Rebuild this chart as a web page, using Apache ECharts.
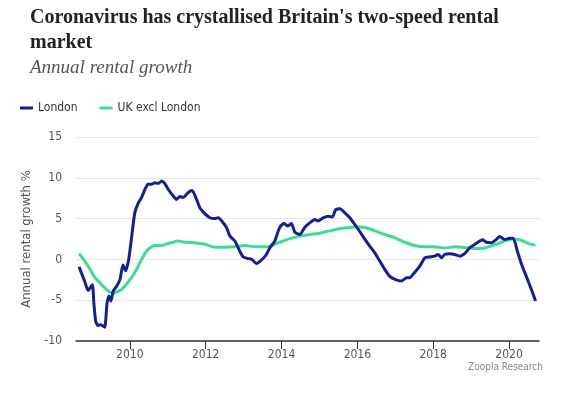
<!DOCTYPE html>
<html>
<head>
<meta charset="utf-8">
<script src="https://cdn.jsdelivr.net/npm/echarts@6/dist/echarts.min.js"></script>
<style>html,body{margin:0;padding:0;background:#fff}#c{width:567px;height:394px}</style>
</head>
<body>
<div id="c"></div>
<script>
const yearTicks = [2010, 2012, 2014, 2016, 2018, 2020];
const londonDates = [2008.66,2008.81,2008.90,2009.01,2009.05,2009.10,2009.16,2009.23,2009.30,2009.34,2009.40,2009.45,2009.50,2009.56,2009.65,2009.74,2009.82,2009.89,2009.97,2010.04,2010.13,2010.22,2010.31,2010.40,2010.48,2010.57,2010.66,2010.75,2010.84,2010.92,2011.01,2011.14,2011.23,2011.32,2011.41,2011.54,2011.64,2011.76,2011.85,2011.96,2012.11,2012.24,2012.33,2012.46,2012.55,2012.64,2012.77,2012.90,2012.99,2013.12,2013.22,2013.34,2013.47,2013.60,2013.69,2013.82,2013.95,2014.06,2014.17,2014.26,2014.35,2014.48,2014.61,2014.75,2014.88,2014.96,2015.10,2015.23,2015.34,2015.43,2015.54,2015.67,2015.80,2015.93,2016.06,2016.20,2016.33,2016.46,2016.59,2016.72,2016.85,2016.99,2017.16,2017.30,2017.38,2017.51,2017.65,2017.78,2017.91,2018.04,2018.13,2018.22,2018.30,2018.44,2018.57,2018.70,2018.83,2018.96,2019.10,2019.23,2019.31,2019.40,2019.54,2019.67,2019.75,2019.89,2020.02,2020.11,2020.22,2020.33,2020.44,2020.59,2020.70];
const londonValues = [-0.9,-2.7,-3.8,-3.1,-5.3,-7.6,-8.1,-8.0,-8.2,-8.3,-5.3,-4.5,-5.1,-3.9,-3.3,-2.45,-0.7,-1.4,0,2.45,5.7,6.9,7.6,8.6,9.2,9.2,9.4,9.3,9.6,9.3,8.6,7.8,7.35,7.7,7.6,8.2,8.45,7.35,6.3,5.7,5.1,5.0,5.1,4.5,3.9,2.85,2.25,1.0,0.3,0.1,0,-0.5,-0.1,0.6,1.4,2.25,3.9,4.4,4.1,4.4,3.35,3.05,3.9,4.5,4.9,4.7,5.1,5.3,5.2,6.1,6.2,5.7,5.1,4.3,3.45,2.45,1.6,0.8,-0.2,-1.2,-2.05,-2.45,-2.65,-2.25,-2.25,-1.6,-0.8,0.2,0.3,0.4,0.6,0.2,0.6,0.7,0.6,0.4,0.7,1.4,1.85,2.25,2.4,2.1,2.05,2.45,2.8,2.45,2.6,2.6,1.0,-0.6,-1.9,-3.7,-5.1];
const ukDates = [2008.66,2008.81,2008.95,2009.08,2009.21,2009.34,2009.47,2009.56,2009.65,2009.78,2009.91,2010.04,2010.18,2010.31,2010.44,2010.57,2010.70,2010.84,2010.97,2011.10,2011.27,2011.45,2011.71,2011.98,2012.24,2012.50,2012.77,2013.03,2013.30,2013.56,2013.69,2013.95,2014.22,2014.48,2014.75,2015.01,2015.27,2015.54,2015.80,2015.98,2016.20,2016.46,2016.72,2016.99,2017.25,2017.51,2017.78,2018.04,2018.30,2018.57,2018.83,2019.10,2019.36,2019.62,2019.89,2020.10,2020.28,2020.44,2020.57,2020.70];
const ukValues = [0.7,-0.2,-1.2,-2.25,-2.85,-3.5,-4.0,-4.15,-4.0,-3.7,-3.05,-2.25,-1.2,0,1.0,1.55,1.7,1.7,1.9,2.05,2.25,2.1,2.05,1.85,1.5,1.5,1.55,1.7,1.55,1.55,1.6,2.1,2.55,2.85,3.05,3.2,3.5,3.75,3.9,4.0,3.9,3.5,3.05,2.65,2.1,1.7,1.55,1.55,1.4,1.55,1.45,1.35,1.4,1.8,2.25,2.5,2.4,2.1,1.85,1.75];
const seriesNames = ['London', 'UK excl London'];

const chart = echarts.init(document.getElementById('c'), null, {renderer: 'canvas'});
const sans = '"Liberation Sans Narrow","DejaVu Sans Condensed","Roboto",sans-serif';
chart.setOption({
  animation: false,
  backgroundColor: '#fff',
  title: [
    {
      text: "Coronavirus has crystallised Britain's two-speed rental\nmarket",
      left: 25, top: 0,
      textStyle: {fontFamily: '"Liberation Serif","DejaVu Serif",serif', fontWeight: 'bold', fontSize: 20, lineHeight: 25, color: '#222'}
    },
    {
      text: 'Annual rental growth',
      left: 25, top: 53,
      textStyle: {fontFamily: '"Liberation Serif","DejaVu Serif",serif', fontStyle: 'italic', fontWeight: 'normal', fontSize: 19, color: '#555'}
    },
    {
      text: 'Zoopla Research',
      right: 19, top: 357,
      textStyle: {fontFamily: sans, fontWeight: 'normal', fontSize: 10, color: '#888'}
    }
  ],
  legend: {
    left: 15, top: 97,
    icon: 'rect', itemWidth: 13, itemHeight: 3, itemGap: 22,
    textStyle: {fontFamily: sans, fontSize: 12, color: '#333'},
    data: seriesNames
  },
  grid: {left: 76, right: 28, top: 137, bottom: 53},
  xAxis: {
    type: 'value', min: 2008.58, max: 2020.79,
    axisLine: {show: true, onZero: false, lineStyle: {color: '#333', width: 1.5}},
    axisTick: {show: true, length: 8, lineStyle: {color: '#333', width: 1}, customValues: yearTicks},
    axisLabel: {customValues: yearTicks, color: '#555', fontFamily: sans, fontSize: 12, margin: 8, formatter: v => String(Math.round(v))},
    splitLine: {show: false}
  },
  yAxis: {
    type: 'value', min: -10, max: 15, interval: 5,
    name: 'Annual rental growth %', nameLocation: 'middle', nameGap: 42, nameRotate: 90,
    nameTextStyle: {fontFamily: sans, fontSize: 13, color: '#555'},
    axisLine: {show: false}, axisTick: {show: false},
    axisLabel: {color: '#555', fontFamily: sans, fontSize: 12, margin: 14},
    splitLine: {lineStyle: {color: '#e6e6e6', width: 1}}
  },
  series: [
    {
      name: seriesNames[0], type: 'line', showSymbol: false, smooth: 0.2,
      data: londonDates.map((d, i) => [d, londonValues[i]]),
      lineStyle: {color: '#14208f', width: 3}, itemStyle: {color: '#14208f'}, z: 3
    },
    {
      name: seriesNames[1], type: 'line', showSymbol: false, smooth: 0.2,
      data: ukDates.map((d, i) => [d, ukValues[i]]),
      lineStyle: {color: '#3ddc97', width: 3}, itemStyle: {color: '#3ddc97'}, z: 2
    }
  ]
});
</script>
</body>
</html>
